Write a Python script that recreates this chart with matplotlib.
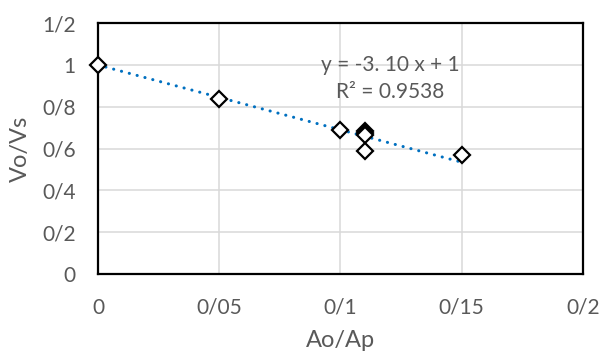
"""Vo/Vs against Ao/Ap with linear trendline (Excel-style scatter)."""
import numpy as np
import matplotlib
matplotlib.use("Agg")
import matplotlib.pyplot as plt
from matplotlib.ticker import FixedLocator

# data
ao_ap = [0.0, 0.05, 0.10, 0.11, 0.11, 0.11, 0.11, 0.15]
vo_vs = [1.0, 0.835, 0.69, 0.685, 0.675, 0.665, 0.59, 0.57]

trend_slope = -3.10
trend_intercept = 1.0
trend_x = [0.0, 0.15]

x_ticks = [0.0, 0.05, 0.10, 0.15, 0.20]
x_labels = ["0", "0/05", "0/1", "0/15", "0/2"]
y_ticks = [0.0, 0.2, 0.4, 0.6, 0.8, 1.0, 1.2]
y_labels = ["0", "0/2", "0/4", "0/6", "0/8", "1", "1/2"]

TXT = "#595959"
GRID = "#D9D9D9"
BLUE = "#0070C0"

plt.rcParams["font.family"] = ["Lato", "DejaVu Sans"]

fig = plt.figure(figsize=(6.01, 3.56), dpi=100)
ax = fig.add_axes([0.163, 0.230, 0.807, 0.705])

tx = np.array(trend_x)
ax.plot(tx, trend_slope * tx + trend_intercept, color=BLUE, lw=2.2,
        linestyle=(0, (0.05, 2.6)), dash_capstyle="round", zorder=3)
ax.plot(ao_ap, vo_vs, linestyle="none", marker="D", markersize=8.5,
        markerfacecolor="white", markeredgecolor="black", markeredgewidth=1.6,
        zorder=4, clip_on=False)

ax.set_xlim(0, 0.2)
ax.set_ylim(0, 1.2)
ax.xaxis.set_major_locator(FixedLocator(x_ticks))
ax.yaxis.set_major_locator(FixedLocator(y_ticks))
ax.set_xticklabels(x_labels)
ax.set_yticklabels(y_labels)
ax.tick_params(length=0, labelsize=15, colors=TXT)
ax.tick_params(axis="x", pad=17)
ax.tick_params(axis="y", pad=16)
ax.grid(True, color=GRID, lw=1.1)
ax.set_axisbelow(True)
for s in ax.spines.values():
    s.set_color("black")
    s.set_linewidth(1.6)

ax.set_xlabel("Ao/Ap", fontsize=17, color=TXT, labelpad=9)
ax.set_ylabel("Vo/Vs", fontsize=17, color=TXT, labelpad=8)

ax.text(0.1205, 1.0, "y = -3. 10 x + 1", fontsize=15, color=TXT,
        ha="center", va="center")
ax.text(0.1205, 0.87, "R² = 0.9538", fontsize=15, color=TXT,
        ha="center", va="center")

fig.savefig("out.png", dpi=100)
